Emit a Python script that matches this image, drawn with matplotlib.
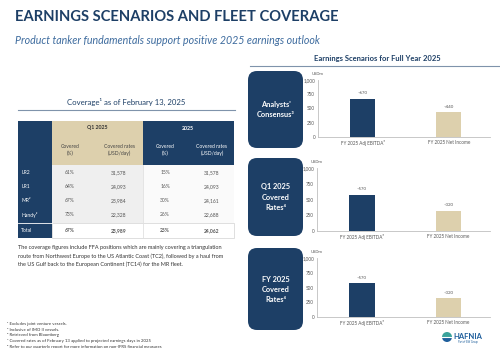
import matplotlib.pyplot as plt
from matplotlib.patches import FancyBboxPatch, Rectangle, Wedge

plt.rcParams["font.family"] = ["Lato", "DejaVu Sans"]

NAVY = "#1d3f66"
TAN = "#ddd0ad"
GREY_TXT = "#555555"

# chart data
categories = ["FY 2025 Adj EBITDA⁵", "FY 2025 Net Income"]
scenarios = ["Analysts'\nConsensus³", "Q1 2025\nCovered\nRates⁴", "FY 2025\nCovered\nRates⁴"]
ebitda = [670, 570, 570]
net_income = [440, 320, 320]
yticks = [0, 250, 500, 750, 1000]

# coverage table data
segments = ["LR2", "LR1", "MR²", "Handy²", "Total"]
q1_covered = [61, 64, 67, 73, 67]
q1_rates = [31578, 24093, 23984, 22328, 23989]
fy_covered = [15, 16, 30, 26, 25]
fy_rates = [31578, 24093, 24161, 22688, 24062]

note_lines = [
    "The coverage figures include FFA positions which are mainly covering a triangulation",
    "route from Northwest Europe to the US Atlantic Coast (TC2), followed by a haul from",
    "the US Gulf back to the European Continent (TC14) for the MR fleet.",
]
footnotes = [
    "¹ Excludes joint venture vessels.",
    "² Inclusive of IMO II vessels.",
    "³ Retrieved from Bloomberg",
    "⁴ Covered rates as of February 13 applied to projected earnings days in 2025",
    "⁵ Refer to our quarterly report for more information on non-IFRS financial measures",
]

W, H = 500, 348
fig = plt.figure(figsize=(W / 100, H / 100), dpi=100)
bg = fig.add_axes([0, 0, 1, 1])
bg.set_xlim(0, W)
bg.set_ylim(H, 0)
bg.axis("off")

# headings
bg.text(15, 17, "EARNINGS SCENARIOS AND FLEET COVERAGE", fontsize=10.6, fontweight="bold",
        color=NAVY, va="center")
bg.text(15, 41, "Product tanker fundamentals support positive 2025 earnings outlook",
        fontsize=7.7, style="italic", color="#3d6b9e", va="center")
bg.text(377, 58, "Earnings Scenarios for Full Year 2025", fontsize=5.5, fontweight="bold",
        color=NAVY, ha="center", va="center")
bg.plot([250, 500], [66, 66], color="#7f93ab", lw=0.8)
bg.text(126, 102, "Coverage¹ as of February 13, 2025", fontsize=5.6, color=NAVY,
        ha="center", va="center")
bg.plot([18, 235], [110, 110], color="#7f93ab", lw=0.8)

# table
top, head_bot, tot_top, bot = 121, 165, 223, 238
bg.add_patch(Rectangle((18, top), 34, bot - top, color=NAVY, lw=0))
bg.add_patch(Rectangle((52, top), 91, head_bot - top, color=TAN, lw=0))
bg.add_patch(Rectangle((143, top), 91, head_bot - top, color=NAVY, lw=0))
bg.add_patch(Rectangle((52, head_bot), 91, tot_top - head_bot, color="#efefef", lw=0))
bg.add_patch(Rectangle((143, head_bot), 91, tot_top - head_bot, color="#fafafa", lw=0))
bg.add_patch(Rectangle((52, tot_top), 182, bot - tot_top, facecolor="white",
                       edgecolor="#d9d9d9", lw=0.6))
bg.plot([18, 52], [tot_top, tot_top], color="white", lw=0.6)
bg.plot([143, 143], [head_bot, bot], color="#e0e0e0", lw=0.6)

col_x = [70, 119, 165, 212]
bg.text(97, 128, "Q1 2025", fontsize=3.8, fontweight="bold", color="#333333",
        ha="center", va="center")
bg.text(188, 128, "2025", fontsize=3.8, fontweight="bold", color="white",
        ha="center", va="center")
sub_heads = ["Covered\n(%)", "Covered rates\n(USD/day)"] * 2
for i, (x, s) in enumerate(zip(col_x, sub_heads)):
    bg.text(x, 150, s, fontsize=3.6, color="#444444" if i < 2 else "white",
            ha="center", va="center", linespacing=1.5)

row_y = [173, 187, 201, 215, 231]
for i, seg in enumerate(segments):
    y = row_y[i]
    bold = "bold" if seg == "Total" else "normal"
    bg.text(21, y, seg, fontsize=3.6, color="white", va="center")
    vals = [f"{q1_covered[i]}%", f"{q1_rates[i]:,}", f"{fy_covered[i]}%", f"{fy_rates[i]:,}"]
    for x, v in zip(col_x, vals):
        bg.text(x, y, v, fontsize=3.6, color=GREY_TXT, ha="center", va="center",
                fontweight=bold)

for i, line in enumerate(note_lines):
    bg.text(18, 248 + i * 8, line, fontsize=4.0, color="#333333", va="center")
for i, line in enumerate(footnotes):
    bg.text(7, 324 + i * 5.7, line, fontsize=3.1, color="#333333", va="center")

# scenario boxes
boxes = [(71, 148), (158, 236), (248, 330)]
for (y0, y1), label in zip(boxes, scenarios):
    bg.add_patch(FancyBboxPatch((248, y0), 55, y1 - y0,
                                boxstyle="round,pad=0,rounding_size=9",
                                facecolor=NAVY, edgecolor="none"))
    bg.text(275.5, (y0 + y1) / 2, label, fontsize=5.3, fontweight="bold", color="white",
            ha="center", va="center", linespacing=1.5)

# bar charts, pixel spans of each plot area (left, right, top, bottom)
spans = [(318, 490, 80, 137), (317, 490, 168, 231), (317, 490, 258, 317)]
for k, (l, r, t, b) in enumerate(spans):
    ax = fig.add_axes([l / W, 1 - b / H, (r - l) / W, (b - t) / H])
    vals = [ebitda[k], net_income[k]]
    ax.bar([0, 1], vals, width=0.29, color=[NAVY, TAN])
    for x, v in zip([0, 1], vals):
        ax.text(x, v + 60, f"~{v}", fontsize=3.2, color=GREY_TXT, ha="center", va="bottom")
    ax.set_xlim(-0.52, 1.48)
    ax.set_ylim(0, 1000)
    ax.set_yticks(yticks)
    ax.set_yticklabels([f"{v:,}" for v in yticks])
    ax.set_xticks([0, 1])
    ax.set_xticklabels(categories)
    ax.tick_params(length=0, labelsize=3.3, labelcolor=GREY_TXT, pad=2)
    for side in ["top", "right"]:
        ax.spines[side].set_visible(False)
    for side in ["left", "bottom"]:
        ax.spines[side].set_color("#bfbfbf")
        ax.spines[side].set_linewidth(0.6)
    ax.patch.set_alpha(0)
    ax.text(0, 1.1, "USDm", transform=ax.transAxes, fontsize=3, color=GREY_TXT,
            ha="center", va="center")

# logo
bg.add_patch(Wedge((447, 337), 5, 0, 180, color="#1f5f9c", lw=0))
bg.add_patch(Wedge((447, 337), 5, 180, 360, color="#3aa39b", lw=0))
bg.plot([442, 452], [337, 337], color="white", lw=0.8)
bg.text(453, 336.5, "HAFNIA", fontsize=5.5, fontweight="bold", color="#1f5f9c", va="center")
bg.text(468, 342.5, "Part of BW Group", fontsize=1.8, color="#1f5f9c", ha="center",
        va="center")

fig.savefig("out.png", dpi=100)
